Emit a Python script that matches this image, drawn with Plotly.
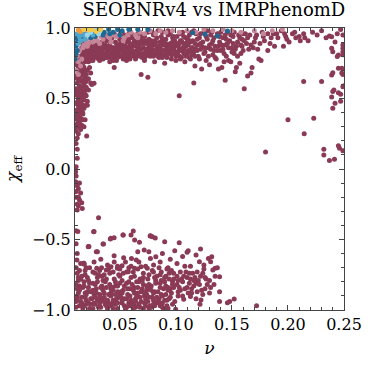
import plotly.graph_objects as go

# points as (nu, chi_eff)
band_pts = [
    (0.016, 0.86), (0.018, 0.84), (0.020, 0.88), (0.022, 0.83), (0.024, 0.86), (0.026, 0.81), (0.019, 0.80),
    (0.021, 0.78), (0.023, 0.80), (0.027, 0.84), (0.028, 0.88), (0.025, 0.90), (0.029, 0.79), (0.030, 0.83),
    (0.017, 0.82), (0.022, 0.76), (0.026, 0.77), (0.031, 0.86), (0.032, 0.80), (0.033, 0.89),
    (0.034, 0.84), (0.035, 0.78), (0.036, 0.87), (0.037, 0.82), (0.038, 0.91), (0.039, 0.79), (0.040, 0.85),
    (0.041, 0.88), (0.042, 0.81), (0.043, 0.93), (0.044, 0.86), (0.045, 0.79), (0.046, 0.90), (0.047, 0.83),
    (0.048, 0.87), (0.049, 0.80), (0.050, 0.92), (0.051, 0.85), (0.052, 0.88), (0.053, 0.82), (0.054, 0.95),
    (0.055, 0.87), (0.056, 0.79), (0.057, 0.91), (0.058, 0.84), (0.059, 0.89), (0.060, 0.82), (0.036, 0.93),
    (0.040, 0.95), (0.045, 0.96), (0.052, 0.97), (0.058, 0.96), (0.038, 0.81), (0.044, 0.83), (0.050, 0.84),
    (0.056, 0.83), (0.047, 0.77), (0.053, 0.78), (0.041, 0.76), (0.059, 0.78),
    (0.061, 0.93), (0.062, 0.87), (0.063, 0.80), (0.064, 0.90), (0.065, 0.84), (0.066, 0.96), (0.067, 0.88),
    (0.068, 0.82), (0.069, 0.92), (0.070, 0.79), (0.071, 0.86), (0.072, 0.94), (0.073, 0.89), (0.074, 0.83),
    (0.075, 0.97), (0.076, 0.87), (0.077, 0.80), (0.078, 0.91), (0.079, 0.85), (0.080, 0.95), (0.081, 0.88),
    (0.082, 0.82), (0.083, 0.93), (0.084, 0.86), (0.085, 0.79), (0.086, 0.90), (0.087, 0.84), (0.088, 0.97),
    (0.089, 0.88), (0.090, 0.81), (0.091, 0.92), (0.092, 0.86), (0.093, 0.95), (0.094, 0.83), (0.095, 0.89),
    (0.096, 0.78), (0.097, 0.93), (0.098, 0.85), (0.099, 0.91), (0.100, 0.80), (0.064, 0.78), (0.072, 0.77),
    (0.081, 0.76), (0.090, 0.75), (0.069, 0.85), (0.078, 0.89), (0.087, 0.94), (0.095, 0.96), (0.066, 0.91),
    (0.084, 0.98),
    (0.101, 0.94), (0.102, 0.87), (0.103, 0.80), (0.104, 0.91), (0.105, 0.84), (0.106, 0.97), (0.107, 0.89),
    (0.108, 0.76), (0.109, 0.93), (0.110, 0.82), (0.111, 0.88), (0.112, 0.95), (0.113, 0.78), (0.114, 0.86),
    (0.115, 0.91), (0.116, 0.83), (0.117, 0.73), (0.118, 0.96), (0.119, 0.88), (0.120, 0.80), (0.121, 0.93),
    (0.122, 0.85), (0.123, 0.71), (0.124, 0.90), (0.125, 0.97), (0.126, 0.83), (0.127, 0.77), (0.128, 0.92),
    (0.129, 0.86), (0.130, 0.74), (0.131, 0.95), (0.132, 0.89), (0.133, 0.81), (0.134, 0.93), (0.135, 0.87),
    (0.136, 0.78), (0.137, 0.96), (0.138, 0.71), (0.139, 0.90), (0.140, 0.84), (0.141, 0.72), (0.142, 0.93),
    (0.143, 0.76), (0.144, 0.88), (0.145, 0.80), (0.146, 0.97), (0.147, 0.77), (0.148, 0.91), (0.149, 0.76),
    (0.150, 0.86), (0.151, 0.94), (0.152, 0.82), (0.153, 0.69), (0.154, 0.72), (0.155, 0.90), (0.156, 0.95),
    (0.157, 0.75), (0.158, 0.88), (0.159, 0.92), (0.160, 0.84), (0.104, 0.96), (0.116, 0.98), (0.128, 0.98),
    (0.140, 0.97),
    (0.162, 0.96), (0.163, 0.89), (0.164, 0.66), (0.165, 0.85), (0.166, 0.95), (0.167, 0.68), (0.168, 0.72),
    (0.169, 0.86), (0.170, 0.90), (0.172, 0.95), (0.173, 0.85), (0.174, 0.78), (0.175, 0.89), (0.176, 0.77),
    (0.177, 0.97), (0.179, 0.91), (0.182, 0.96), (0.182, 0.84), (0.185, 0.93), (0.187, 0.96), (0.188, 0.87),
    (0.191, 0.93), (0.194, 0.98), (0.196, 0.87), (0.197, 0.96), (0.199, 0.92), (0.201, 0.90), (0.204, 0.96),
    (0.207, 0.93), (0.210, 0.94), (0.211, 0.91), (0.214, 0.96), (0.218, 0.91), (0.222, 0.97), (0.226, 0.95),
    (0.230, 0.98), (0.234, 0.93), (0.244, 0.96), (0.247, 0.99),
]

band_extra_pts = [
    (0.018, 0.78), (0.020, 0.82), (0.023, 0.85), (0.025, 0.79), (0.027, 0.81), (0.029, 0.86), (0.031, 0.78),
    (0.033, 0.83), (0.035, 0.85), (0.037, 0.79), (0.039, 0.87), (0.042, 0.84), (0.044, 0.80), (0.046, 0.86),
    (0.048, 0.82), (0.051, 0.80), (0.053, 0.86), (0.055, 0.81), (0.057, 0.86), (0.060, 0.86), (0.062, 0.83),
    (0.063, 0.91), (0.065, 0.80), (0.067, 0.85), (0.070, 0.89), (0.071, 0.82), (0.073, 0.80), (0.075, 0.85),
    (0.076, 0.92), (0.078, 0.83), (0.080, 0.80), (0.082, 0.90), (0.083, 0.84), (0.085, 0.87), (0.087, 0.81),
    (0.089, 0.91), (0.091, 0.84), (0.092, 0.79), (0.094, 0.88), (0.096, 0.84), (0.098, 0.94), (0.099, 0.87),
    (0.101, 0.83), (0.103, 0.89), (0.105, 0.79), (0.107, 0.85), (0.109, 0.80), (0.111, 0.92), (0.113, 0.84),
    (0.115, 0.81), (0.117, 0.89), (0.119, 0.84), (0.121, 0.78), (0.123, 0.87), (0.125, 0.82), (0.127, 0.94),
    (0.129, 0.80), (0.131, 0.85), (0.133, 0.91), (0.135, 0.79), (0.137, 0.84), (0.139, 0.94), (0.141, 0.88),
    (0.143, 0.82), (0.145, 0.92), (0.147, 0.86), (0.149, 0.95), (0.151, 0.89), (0.153, 0.85), (0.155, 0.80),
    (0.157, 0.93), (0.159, 0.87), (0.161, 0.91), (0.164, 0.93), (0.167, 0.88), (0.171, 0.93), (0.178, 0.94),
    (0.184, 0.89), (0.190, 0.96), (0.198, 0.94), (0.206, 0.97), (0.215, 0.93), (0.056, 0.90), (0.062, 0.95),
    (0.070, 0.95), (0.079, 0.97), (0.088, 0.92), (0.093, 0.98), (0.107, 0.94), (0.114, 0.97), (0.122, 0.96),
    (0.132, 0.97), (0.144, 0.95), (0.152, 0.97), (0.160, 0.96),
]

band_dense_pts = [
    (0.017, 0.89), (0.019, 0.87), (0.021, 0.84), (0.023, 0.88), (0.025, 0.83), (0.027, 0.87), (0.029, 0.82),
    (0.031, 0.89), (0.033, 0.86), (0.035, 0.81), (0.037, 0.88), (0.039, 0.84), (0.041, 0.91), (0.043, 0.86),
    (0.045, 0.83), (0.047, 0.89), (0.049, 0.85), (0.051, 0.90), (0.053, 0.84), (0.055, 0.92), (0.057, 0.81),
    (0.059, 0.87), (0.061, 0.84), (0.063, 0.89), (0.065, 0.87), (0.067, 0.82), (0.069, 0.89), (0.071, 0.91),
    (0.073, 0.85), (0.075, 0.82), (0.077, 0.89), (0.079, 0.81), (0.081, 0.91), (0.083, 0.87), (0.085, 0.83),
    (0.087, 0.88), (0.089, 0.84), (0.091, 0.89), (0.093, 0.82), (0.095, 0.86), (0.097, 0.90), (0.099, 0.82),
    (0.101, 0.89), (0.103, 0.85), (0.105, 0.91), (0.107, 0.82), (0.109, 0.87), (0.111, 0.84), (0.113, 0.90),
    (0.115, 0.86), (0.117, 0.80), (0.119, 0.92), (0.034, 0.90), (0.038, 0.86), (0.042, 0.79), (0.046, 0.82),
    (0.050, 0.87), (0.054, 0.85), (0.058, 0.92), (0.062, 0.89), (0.066, 0.84), (0.070, 0.81), (0.074, 0.91),
    (0.078, 0.87), (0.082, 0.84), (0.086, 0.86), (0.090, 0.88), (0.094, 0.85), (0.098, 0.88), (0.102, 0.83),
    (0.106, 0.86), (0.110, 0.90), (0.114, 0.82), (0.118, 0.85), (0.122, 0.89), (0.126, 0.86), (0.130, 0.88),
    (0.134, 0.84), (0.138, 0.87), (0.142, 0.85), (0.146, 0.89), (0.150, 0.83), (0.154, 0.87), (0.158, 0.82),
    (0.020, 0.80), (0.024, 0.77), (0.028, 0.80), (0.032, 0.77), (0.036, 0.80), (0.040, 0.82), (0.044, 0.77),
    (0.048, 0.79), (0.052, 0.81), (0.056, 0.77), (0.060, 0.80), (0.064, 0.82), (0.068, 0.80), (0.072, 0.79),
    (0.076, 0.81), (0.080, 0.83), (0.084, 0.80), (0.088, 0.79), (0.092, 0.82), (0.096, 0.81), (0.100, 0.77),
    (0.104, 0.78), (0.108, 0.82), (0.112, 0.79),
]

stray_pts = [
    (0.161, 0.57), (0.116, 0.61), (0.103, 0.52), (0.144, 0.63), (0.214, 0.62), (0.230, 0.62), (0.200, 0.35),
    (0.223, 0.36), (0.2145, 0.25), (0.180, 0.12), (0.045, 0.72), (0.069, 0.67), (0.075, 0.65),
]

right_pts = [
    (0.232, 0.14), (0.232, 0.10), (0.237, 0.06), (0.2415, 0.07), (0.245, 0.165), (0.246, 0.147), (0.249, 0.13),
    (0.239, 0.667), (0.240, 0.683), (0.239, 0.51), (0.240, 0.55), (0.241, 0.56), (0.240, 0.43), (0.242, 0.466),
    (0.245, 0.54), (0.247, 0.53), (0.247, 0.48), (0.249, 0.584), (0.250, 0.59), (0.245, 0.714), (0.248, 0.714),
    (0.248, 0.68), (0.249, 0.67), (0.244, 0.797), (0.245, 0.808), (0.239, 0.856), (0.240, 0.832), (0.249, 0.879),
    (0.249, 0.856), (0.249, 0.832), (0.242, 0.90), (0.249, 0.81), (0.237, 0.943), (0.239, 0.938), (0.249, 0.95),
]

column_pts = [
    (0.011, 0.74), (0.013, 0.72), (0.015, 0.75), (0.017, 0.73), (0.012, 0.70), (0.014, 0.68), (0.016, 0.70),
    (0.018, 0.69), (0.011, 0.66), (0.013, 0.64), (0.015, 0.66), (0.017, 0.63), (0.019, 0.65), (0.012, 0.61),
    (0.014, 0.59), (0.016, 0.62), (0.018, 0.60), (0.011, 0.57), (0.013, 0.55), (0.015, 0.57), (0.017, 0.54),
    (0.020, 0.58), (0.012, 0.52), (0.014, 0.50), (0.016, 0.52), (0.018, 0.49), (0.011, 0.47), (0.013, 0.45),
    (0.015, 0.47), (0.017, 0.44), (0.012, 0.42), (0.014, 0.40), (0.016, 0.41), (0.011, 0.37), (0.013, 0.35),
    (0.015, 0.36), (0.012, 0.32), (0.014, 0.30), (0.011, 0.27), (0.013, 0.25), (0.020, 0.52), (0.022, 0.56),
    (0.019, 0.45), (0.021, 0.48), (0.017, 0.39), (0.019, 0.35), (0.016, 0.31), (0.024, 0.61), (0.0196, 0.565),
    (0.021, 0.452), (0.0168, 0.40), (0.025, 0.60), (0.027, 0.608), (0.0204, 0.234), (0.021, 0.70), (0.023, 0.72),
    (0.019, 0.76), (0.024, 0.68), (0.013, 0.78), (0.015, 0.80),
    (0.012, 0.77), (0.014, 0.74), (0.016, 0.67), (0.018, 0.72), (0.020, 0.67), (0.022, 0.64), (0.012, 0.64),
    (0.014, 0.63), (0.016, 0.58), (0.018, 0.55), (0.020, 0.62), (0.011, 0.54), (0.013, 0.49), (0.015, 0.53),
    (0.017, 0.50), (0.019, 0.53), (0.012, 0.46), (0.014, 0.44), (0.016, 0.46), (0.018, 0.43), (0.011, 0.40),
    (0.013, 0.38), (0.015, 0.42), (0.017, 0.35), (0.012, 0.35), (0.014, 0.33), (0.011, 0.30), (0.015, 0.28),
    (0.012, 0.22), (0.018, 0.30),
    (0.012, 0.076), (0.011, 0.016), (0.0106, -0.019), (0.011, 0.18), (0.012, 0.14), (0.0106, -0.09),
    (0.012, -0.12), (0.013, -0.14), (0.015, -0.17), (0.011, -0.20), (0.014, -0.22), (0.016, -0.24),
    (0.013, -0.26), (0.0165, -0.28), (0.012, -0.29), (0.011, -0.16), (0.014, -0.10), (0.031, -0.345),
    (0.027, -0.444), (0.0224, -0.55), (0.0354, -0.532), (0.0176, -0.669), (0.030, -0.587), (0.011, -0.438),
    (0.0266, -0.445), (0.011, -0.53), (0.012, -0.60), (0.011, -0.05), (0.013, -0.20), (0.012, -0.25),
]

cluster_pts = [
    (0.042, -0.492), (0.053, -0.468), (0.060, -0.468), (0.062, -0.44), (0.077, -0.475), (0.090, -0.516),
    (0.103, -0.523), (0.022, -0.55), (0.035, -0.532), (0.029, -0.587), (0.018, -0.669), (0.0816, -0.49),
    (0.079, -0.48), (0.111, -0.58), (0.110, -0.59), (0.122, -0.567), (0.118, -0.61), (0.121, -0.657),
    (0.125, -0.68), (0.129, -0.634), (0.132, -0.622), (0.131, -0.657), (0.135, -0.704), (0.137, -0.70),
    (0.133, -0.716), (0.139, -0.764), (0.139, -0.87), (0.152, -0.922), (0.148, -0.94), (0.139, -0.94),
    (0.146, -0.949), (0.172, -0.97), (0.1215, -0.96), (0.1224, -0.929), (0.0998, -0.995), (0.113, -0.905),
    (0.107, -0.924), (0.0125, -0.444), (0.0218, -0.551), (0.0415, -0.496), (0.0449, -0.487), (0.0528, -0.468),
    (0.0632, -0.504), (0.0675, -0.52), (0.0773, -0.473), (0.0117, -0.645), (0.0182, -0.676), (0.0449, -0.615),
    (0.0534, -0.629), (0.0604, -0.634), (0.066, -0.587), (0.0717, -0.574), (0.0759, -0.587), (0.0821, -0.622),
    (0.0773, -0.634), (0.0647, -0.645), (0.0294, -0.704), (0.0337, -0.70), (0.0379, -0.716), (0.0421, -0.693),
    (0.0478, -0.704), (0.052, -0.686), (0.0576, -0.728), (0.0632, -0.704), (0.0689, -0.693), (0.0745, -0.704),
    (0.0801, -0.681), (0.088, -0.60), (0.095, -0.64), (0.101, -0.67), (0.106, -0.62), (0.113, -0.69),
    (0.093, -0.70), (0.086, -0.66), (0.099, -0.58), (0.115, -0.74), (0.127, -0.78), (0.134, -0.82),
    (0.012, -0.74), (0.019, -0.75), (0.026, -0.73), (0.034, -0.76), (0.041, -0.74), (0.049, -0.75),
    (0.056, -0.73), (0.063, -0.76), (0.071, -0.74), (0.079, -0.72), (0.086, -0.75), (0.094, -0.74),
    (0.101, -0.76), (0.109, -0.73), (0.117, -0.77), (0.124, -0.74),
    (0.015, -0.78), (0.022, -0.79), (0.030, -0.77), (0.037, -0.80), (0.045, -0.78), (0.052, -0.79),
    (0.060, -0.77), (0.067, -0.80), (0.075, -0.78), (0.082, -0.79), (0.090, -0.77), (0.097, -0.80),
    (0.105, -0.78), (0.112, -0.81), (0.120, -0.79), (0.128, -0.82),
    (0.011, -0.82), (0.018, -0.83), (0.026, -0.81), (0.033, -0.84), (0.041, -0.82), (0.048, -0.83),
    (0.056, -0.81), (0.063, -0.84), (0.071, -0.82), (0.078, -0.83), (0.086, -0.81), (0.093, -0.84),
    (0.101, -0.82), (0.108, -0.85), (0.116, -0.83), (0.123, -0.86), (0.131, -0.84),
    (0.014, -0.86), (0.021, -0.87), (0.029, -0.85), (0.036, -0.88), (0.044, -0.86), (0.051, -0.87),
    (0.059, -0.85), (0.066, -0.88), (0.074, -0.86), (0.081, -0.87), (0.089, -0.85), (0.096, -0.88),
    (0.104, -0.86), (0.111, -0.88), (0.119, -0.87),
    (0.012, -0.90), (0.019, -0.91), (0.027, -0.89), (0.034, -0.92), (0.042, -0.90), (0.049, -0.91),
    (0.057, -0.89), (0.064, -0.92), (0.072, -0.90), (0.079, -0.91), (0.087, -0.89), (0.094, -0.92),
    (0.102, -0.90),
    (0.015, -0.94), (0.022, -0.95), (0.030, -0.93), (0.037, -0.96), (0.045, -0.94), (0.052, -0.95),
    (0.060, -0.93), (0.067, -0.96), (0.075, -0.94), (0.082, -0.95), (0.090, -0.93), (0.097, -0.96),
    (0.011, -0.98), (0.018, -0.97), (0.026, -0.99), (0.033, -0.98), (0.041, -0.97), (0.048, -0.99),
    (0.056, -0.98), (0.063, -0.97), (0.071, -0.99), (0.078, -0.98), (0.086, -0.97), (0.093, -0.99),
    (0.016, -0.76), (0.023, -0.81), (0.031, -0.75), (0.038, -0.84), (0.046, -0.80), (0.053, -0.86),
    (0.061, -0.82), (0.068, -0.78), (0.076, -0.85), (0.083, -0.76), (0.091, -0.83), (0.098, -0.78),
    (0.013, -0.88), (0.020, -0.93), (0.028, -0.91), (0.035, -0.86), (0.043, -0.96), (0.050, -0.89),
    (0.058, -0.95), (0.065, -0.90), (0.073, -0.92), (0.080, -0.88), (0.088, -0.95), (0.095, -0.91),
    (0.017, -0.99), (0.024, -0.96), (0.032, -0.95), (0.039, -0.99), (0.047, -0.92), (0.054, -0.97),
    (0.062, -0.99), (0.069, -0.94), (0.077, -0.97), (0.085, -0.92), (0.092, -0.97),
]

cluster_extra_pts = [
    (0.013, -0.79), (0.017, -0.84), (0.021, -0.77), (0.024, -0.87), (0.028, -0.82), (0.032, -0.89),
    (0.035, -0.79), (0.039, -0.93), (0.043, -0.84), (0.046, -0.89), (0.050, -0.76), (0.054, -0.92),
    (0.057, -0.85), (0.061, -0.95), (0.065, -0.80), (0.069, -0.87), (0.073, -0.97), (0.076, -0.82),
    (0.080, -0.93), (0.084, -0.87), (0.087, -0.79), (0.091, -0.89), (0.095, -0.85), (0.099, -0.94),
    (0.103, -0.84), (0.106, -0.80), (0.110, -0.77), (0.114, -0.85), (0.118, -0.81), (0.122, -0.76),
    (0.126, -0.85), (0.130, -0.79), (0.011, -0.94), (0.014, -0.97), (0.019, -0.88), (0.023, -0.99),
    (0.027, -0.95), (0.031, -0.98), (0.036, -0.91), (0.040, -0.95), (0.044, -0.99), (0.048, -0.87),
    (0.052, -0.93), (0.055, -0.99), (0.059, -0.90), (0.064, -0.98), (0.068, -0.91), (0.072, -0.95),
    (0.076, -0.99), (0.081, -0.97), (0.085, -0.95), (0.089, -0.99), (0.093, -0.86), (0.097, -0.82),
    (0.012, -0.85), (0.016, -0.91), (0.020, -0.96), (0.025, -0.92), (0.029, -0.88), (0.033, -0.93),
    (0.038, -0.97), (0.042, -0.88), (0.046, -0.96), (0.051, -0.91), (0.058, -0.97), (0.063, -0.88),
    (0.070, -0.85), (0.074, -0.89), (0.083, -0.91), (0.088, -0.90), (0.014, -0.72), (0.020, -0.70),
    (0.027, -0.66), (0.033, -0.64), (0.039, -0.68), (0.045, -0.66), (0.050, -0.71), (0.055, -0.66),
    (0.060, -0.69), (0.067, -0.66), (0.073, -0.69), (0.080, -0.73), (0.085, -0.70), (0.091, -0.76),
    (0.096, -0.72), (0.104, -0.73), (0.108, -0.69), (0.113, -0.78), (0.119, -0.73), (0.125, -0.71),
]

cluster_dense_pts = [
    (0.014, -0.83), (0.018, -0.80), (0.022, -0.84), (0.026, -0.86), (0.030, -0.80), (0.034, -0.83),
    (0.038, -0.78), (0.042, -0.85), (0.046, -0.83), (0.050, -0.81), (0.054, -0.83), (0.058, -0.80),
    (0.062, -0.86), (0.066, -0.84), (0.070, -0.79), (0.074, -0.83), (0.078, -0.86), (0.082, -0.81),
    (0.086, -0.84), (0.090, -0.80), (0.094, -0.78), (0.098, -0.84), (0.016, -0.95), (0.020, -0.89),
    (0.024, -0.92), (0.028, -0.96), (0.032, -0.91), (0.036, -0.94), (0.040, -0.89), (0.044, -0.93),
    (0.048, -0.95), (0.052, -0.88), (0.056, -0.92), (0.060, -0.97), (0.064, -0.94), (0.068, -0.98),
    (0.072, -0.88), (0.076, -0.91), (0.080, -0.96), (0.084, -0.94), (0.088, -0.98), (0.092, -0.93),
    (0.012, -0.92), (0.013, -0.77), (0.011, -0.70), (0.015, -0.67), (0.019, -0.72), (0.023, -0.70),
    (0.028, -0.74), (0.032, -0.72), (0.036, -0.75), (0.040, -0.71), (0.044, -0.73), (0.048, -0.69),
    (0.053, -0.74), (0.058, -0.70), (0.062, -0.73), (0.066, -0.71), (0.071, -0.77), (0.076, -0.75),
    (0.081, -0.77), (0.087, -0.73), (0.092, -0.71), (0.098, -0.74), (0.102, -0.79), (0.107, -0.76),
    (0.112, -0.74), (0.116, -0.79), (0.121, -0.82), (0.126, -0.77), (0.102, -0.87), (0.106, -0.90),
    (0.110, -0.84), (0.114, -0.88), (0.118, -0.92), (0.124, -0.89), (0.130, -0.88), (0.135, -0.76),
]

pink_pts = [
    (0.012, 0.80), (0.014, 0.84), (0.016, 0.78), (0.013, 0.76), (0.015, 0.73), (0.018, 0.88), (0.020, 0.91),
    (0.022, 0.89), (0.024, 0.92), (0.026, 0.90), (0.028, 0.93), (0.030, 0.91), (0.033, 0.94), (0.035, 0.92),
    (0.038, 0.95), (0.041, 0.93), (0.044, 0.95), (0.047, 0.94), (0.050, 0.96), (0.054, 0.93), (0.057, 0.95),
    (0.060, 0.97), (0.064, 0.95), (0.068, 0.97), (0.072, 0.96), (0.077, 0.98), (0.082, 0.96), (0.086, 0.98),
    (0.091, 0.97), (0.097, 0.98), (0.103, 0.97), (0.110, 0.98), (0.118, 0.97), (0.125, 0.99), (0.133, 0.98),
    (0.142, 0.99), (0.150, 0.98), (0.158, 0.97), (0.170, 0.98), (0.178, 0.96), (0.186, 0.98), (0.195, 0.99),
    (0.011, 0.70), (0.013, 0.67), (0.017, 0.86), (0.021, 0.87), (0.032, 0.89), (0.042, 0.90), (0.053, 0.91),
    (0.066, 0.93),
]

blue_pts = [
    (0.011, 0.93), (0.012, 0.90), (0.011, 0.87), (0.013, 0.95), (0.015, 0.93), (0.017, 0.96), (0.019, 0.94),
    (0.021, 0.97), (0.023, 0.95), (0.025, 0.98), (0.027, 0.96), (0.030, 0.97), (0.032, 0.99), (0.036, 0.97),
    (0.040, 0.99), (0.044, 0.97), (0.048, 0.99), (0.052, 0.98), (0.058, 0.99), (0.011, 0.82), (0.010, 0.78),
    (0.012, 0.84), (0.115, 0.967), (0.126, 0.955), (0.137, 0.943), (0.146, 0.979), (0.066, 0.99), (0.075, 0.99),
    (0.024, 0.93), (0.028, 0.94), (0.035, 0.95), (0.041, 0.96), (0.050, 0.95),
]

light_blue_pts = [
    (0.012, 0.96), (0.014, 0.94), (0.016, 0.97), (0.018, 0.95), (0.020, 0.98), (0.022, 0.96), (0.015, 0.91),
    (0.013, 0.89), (0.026, 0.95), (0.029, 0.98), (0.019, 0.92),
]

cyan_pts = [(0.014, 0.98), (0.017, 0.99), (0.021, 0.95), (0.024, 0.97), (0.027, 0.99), (0.031, 0.96)]

orange_pts = [(0.013, 0.985), (0.015, 0.975)]

yellow_pts = [(0.018, 0.99), (0.022, 0.985), (0.025, 0.99), (0.029, 0.975), (0.033, 0.99)]

x_ticks = [0.05, 0.10, 0.15, 0.20, 0.25]
y_ticks = [-1.0, -0.5, 0.0, 0.5, 1.0]

maroon_pts = (band_pts + band_extra_pts + band_dense_pts + stray_pts + right_pts + column_pts
              + cluster_pts + cluster_extra_pts + cluster_dense_pts)

layers = [
    (maroon_pts, "#8a3a55"),
    (pink_pts, "#c58597"),
    (blue_pts, "#1c6a94"),
    (light_blue_pts, "#4ea6cc"),
    (cyan_pts, "#9dd6e6"),
    (orange_pts, "#ef9a3c"),
    (yellow_pts, "#f3c94a"),
]

font = "DejaVu Serif"

fig = go.Figure()
for pts, col in layers:
    fig.add_trace(go.Scatter(
        x=[p[0] for p in pts], y=[p[1] for p in pts],
        mode="markers", marker=dict(size=5, color=col, line=dict(width=0)),
        hoverinfo="skip"))

fig.update_layout(
    width=374, height=368,
    margin=dict(l=72, r=18, t=28, b=58),
    plot_bgcolor="white", paper_bgcolor="white",
    showlegend=False,
    font=dict(family=font, size=16, color="black"),
    title=dict(text="SEOBNRv4 vs IMRPhenomD", x=0.572, xanchor="center",
               y=0.99, yanchor="top", font=dict(family=font, size=18, color="black")),
)
fig.update_xaxes(
    range=[0.01, 0.25], tickvals=x_ticks, ticktext=["%.2f" % v for v in x_ticks],
    tickfont=dict(family=font, size=16, color="black"),
    ticks="inside", ticklen=5, tickcolor="#444", showline=True, linecolor="#444", linewidth=1,
    mirror="ticks", showgrid=False, zeroline=False,
    minor=dict(dtick=0.01, tick0=0, ticks="inside", ticklen=3, tickcolor="#444", showgrid=False),
    title=dict(text="<i>ν</i>", standoff=8, font=dict(family=font, size=17)),
)
fig.update_yaxes(
    range=[-1.0, 1.0], tickvals=y_ticks, ticktext=[("%.1f" % v).replace("-", "\u2212") for v in y_ticks],
    tickfont=dict(family=font, size=16, color="black"),
    ticks="inside", ticklen=5, tickcolor="#444", showline=True, linecolor="#444", linewidth=1,
    mirror="ticks", showgrid=False, zeroline=False,
    minor=dict(dtick=0.1, tick0=0, ticks="inside", ticklen=3, tickcolor="#444", showgrid=False),
    title=dict(text="<i>χ</i><sub>eff</sub>", standoff=8, font=dict(family=font, size=17)),
)

# drop the page's default body margin so the figure sits at the window's corner
fig.write_html("out.html", config={"displayModeBar": False},
               post_script="document.body.style.margin='0';")
